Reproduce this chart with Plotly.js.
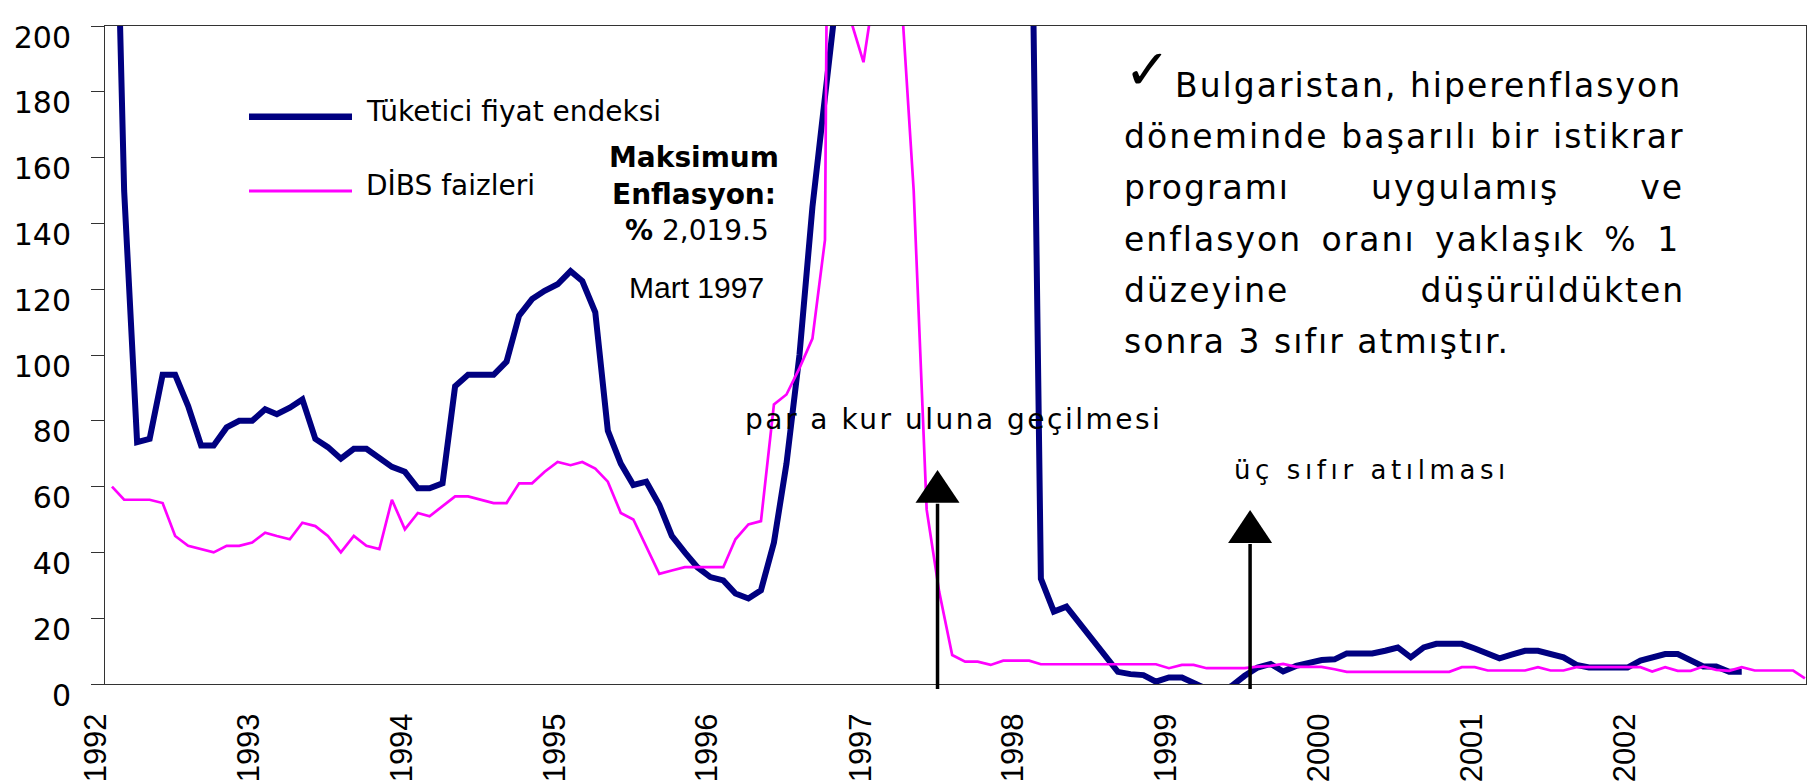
<!DOCTYPE html>
<html>
<head>
<meta charset="utf-8">
<script src="https://cdn.plot.ly/plotly-3.0.1.min.js"></script>
<style>
html,body{margin:0;padding:0;background:#fff;}
#chart{width:1813px;height:781px;}
</style>
</head>
<body>
<div id="chart"></div>
<script>
// ---- data -------------------------------------------------------------
const firstYear = 1992, firstMonth = 2;           // first observation: Feb 1992

// Tüketici fiyat endeksi (yıllık % değişim), Feb 1992 - Oct 2002
const cpiInflation = [
  300, 150, 73.5, 74.5, 94, 94, 84.5, 72.5, 72.5, 78, 80,                 // 1992
  80, 83.5, 82, 84, 86.5, 74.5, 72, 68.5, 71.5, 71.5, 68.5, 66,            // 1993
  64.5, 59.5, 59.5, 61, 90.5, 94, 94, 94, 98, 112, 117, 119.5,             // 1994
  121.5, 125.5, 122.5, 113, 77, 67, 60.5, 61.5, 54.5, 45, 40, 35.5,        // 1995
  32.5, 31.5, 27.5, 26, 28.5, 43, 67, 100, 145, 178, 213, 311,             // 1996
  480, 1270, 2019.5, 1900, 1700, 1300, 1000, 850, 800, 750, 650, 579,      // 1997
  400, 300, 32, 22, 23.5, 18.5, 13.5, 8.8, 3.7, 3, 2.7, 0.7,               // 1998
  2, 2, 0.4, -1.5, -2.5, -0.5, 2.5, 5, 6.1, 3.8, 5.5, 6.5,                 // 1999
  7.3, 7.5, 9.3, 9.3, 9.3, 10.1, 11.1, 8.1, 11.1, 12.2, 12.2, 12.2,        // 2000
  10.8, 9, 7.8, 9, 10.1, 10.1, 9.3, 8.1, 5.8, 5, 5, 5,                     // 2001
  5, 7.1, 8.1, 9.1, 9.1, 7.2, 5.3, 5.3, 3.7, 3.7                           // 2002
];

// DİBS faizleri (%), Feb 1992 - Mar 2003
const dibsRates = [
  60, 56, 56, 56, 55, 45, 42, 41, 40, 42, 42,                              // 1992
  43, 46, 45, 44, 49, 48, 45, 40, 45, 42, 41, 56,                          // 1993
  47, 52, 51, 54, 57, 57, 56, 55, 55, 61, 61, 64.5,                        // 1994
  67.5, 66.5, 67.5, 65.5, 61.5, 52, 50, 42, 33.5, 34.5, 35.5, 35.5,        // 1995
  35.5, 35.5, 44, 48.5, 49.5, 85, 88, 96, 105, 135, 700, 202,              // 1996
  189, 215, 280, 210, 150, 53, 28, 8.8, 6.8, 6.8, 5.8, 7.1,                // 1997
  7.1, 7.1, 6, 6, 6, 6, 6, 6, 6, 6, 6, 6,                                  // 1998
  4.8, 5.8, 5.8, 4.8, 4.8, 4.8, 4.8, 5.3, 5.5, 6.1, 5.2, 5.2,              // 1999
  5.2, 4.5, 3.7, 3.7, 3.7, 3.7, 3.7, 3.7, 3.7, 3.7, 3.7, 5.1,              // 2000
  5.1, 4.1, 4.1, 4.1, 4.1, 5.1, 4.1, 4.1, 5.1, 5.1, 5.1, 5.1,              // 2001
  5.1, 5.1, 3.8, 5.1, 4, 4, 5.3, 4.3, 4, 5.1, 4.1, 4.1,                    // 2002
  4.1, 4.1, 1.7                                                            // 2003
];

const seriesNames = ['Tüketici fiyat endeksi', 'DİBS faizleri'];
const yearLabels = ['1992','1993','1994','1995','1996','1997','1998','1999','2000','2001','2002'];
const yTickValues = [0, 20, 40, 60, 80, 100, 120, 140, 160, 180, 200];
const eventDates = ['1997-06-27', '1999-07-14'];   // para kurulu, üç sıfır

// ---- helpers ----------------------------------------------------------
function monthDates(n) {
  const out = [];
  for (let k = 0; k < n; k++) {
    const t = firstMonth - 1 + k;
    const y = firstYear + Math.floor(t / 12);
    const m = (t % 12) + 1;
    out.push(y + '-' + String(m).padStart(2, '0') + '-01');
  }
  return out;
}

const W = 1813, H = 781;
const M = {l: 105, r: 7, t: 26, b: 97};
const PW = W - M.l - M.r, PH = H - M.t - M.b;
const pxX = p => (p - M.l) / PW;
const pxY = p => (H - M.b - p) / PH;

const FONT = 'DejaVu Sans, Verdana, sans-serif';

function txt(text, xpx, basePx, size, opts) {
  return Object.assign({
    xref: 'paper', yref: 'paper',
    x: pxX(xpx), y: pxY(basePx - 0.346 * size),
    xanchor: 'left', yanchor: 'middle',
    showarrow: false, text: text,
    font: {family: FONT, size: size, color: '#000'}
  }, opts || {});
}
function sp(ls, ws, s) {
  return '<span style="letter-spacing:' + ls + 'px;word-spacing:' + ws + 'px">' + s + '</span>';
}

// ---- traces -----------------------------------------------------------
const traces = [
  {
    x: monthDates(cpiInflation.length), y: cpiInflation,
    type: 'scatter', mode: 'lines', name: seriesNames[0],
    line: {color: '#000080', width: 6}, showlegend: false
  },
  {
    x: monthDates(dibsRates.length), y: dibsRates,
    type: 'scatter', mode: 'lines', name: seriesNames[1],
    line: {color: '#FF00FF', width: 2.7}, showlegend: false
  }
];

// ---- shapes: legend samples and event arrows --------------------------
const shapes = [
  {type: 'line', xref: 'paper', yref: 'paper', x0: pxX(249), x1: pxX(352), y0: pxY(116.7), y1: pxY(116.7),
   line: {color: '#000080', width: 6.5}},
  {type: 'line', xref: 'paper', yref: 'paper', x0: pxX(249), x1: pxX(352), y0: pxY(191), y1: pxY(191),
   line: {color: '#FF00FF', width: 3}}
];
const arrowGeom = [{base: 502.7, tip: 470}, {base: 543, tip: 510}];
eventDates.forEach((d, i) => {
  const g = arrowGeom[i];
  shapes.push({type: 'line', xref: 'x', yref: 'paper', x0: d, x1: d, y0: pxY(689), y1: pxY(g.base + 1),
               line: {color: '#000', width: 3.5}});
  shapes.push({type: 'path', xref: 'x', yref: 'paper', xsizemode: 'pixel', xanchor: d,
               path: 'M -22,' + pxY(g.base) + ' L 22,' + pxY(g.base) + ' L 0,' + pxY(g.tip) + ' Z',
               fillcolor: '#000', line: {color: '#000', width: 0}});
});

// ---- annotations ------------------------------------------------------
const annotations = [
  txt(seriesNames[0], 364, 121, 28),
  txt(seriesNames[1], 364, 195, 28),
  txt('<b>Maksimum</b>', 694, 166.7, 28, {xanchor: 'center'}),
  txt('<b>Enflasyon:</b>', 694, 204, 28, {xanchor: 'center'}),
  txt('<b>%</b> 2,019.5', 697, 240, 28, {xanchor: 'center'}),
  txt('Mart 1997', 696, 296.7, 28, {xanchor: 'center', font: {family: 'Liberation Sans, Arial, sans-serif', size: 30, color: '#000'}}),
  txt(sp(2.5, 0, 'par a kur uluna geçilmesi'), 743, 429.3, 28),
  txt(sp(4.6, 0, 'üç sıfır atılması'), 1232, 479.3, 26),
  // right-hand text block
  {xref: 'paper', yref: 'paper', x: pxX(1147), y: pxY(69), xanchor: 'center', yanchor: 'middle',
   showarrow: false, text: '✓', font: {family: FONT, size: 56, color: '#000'}},
  txt(sp(2, 0, 'Bulgaristan, hiperenflasyon'), 1173, 96.7, 33),
  txt(sp(2.1, 0, 'döneminde başarılı bir istikrar'), 1122, 148.3, 33),
  txt(sp(2, 68.5, 'programı uygulamış ve'), 1122, 199.3, 33),
  txt(sp(2, 7, 'enflasyon oranı yaklaşık % 1'), 1122, 250.7, 33),
  txt(sp(2, 118.5, 'düzeyine düşürüldükten'), 1122, 301.7, 33),
  txt(sp(2, 0, 'sonra 3 sıfır atmıştır.'), 1122, 353.3, 33)
];

// ---- layout -----------------------------------------------------------
const layout = {
  width: W, height: H,
  margin: M,
  paper_bgcolor: '#fff', plot_bgcolor: '#fff',
  showlegend: false,
  xaxis: {
    type: 'date',
    range: ['1992-01-15 07:00', '2003-03-03 14:00'],
    tickmode: 'array',
    tickvals: yearLabels.map(y => y + '-02-01'),
    ticktext: yearLabels,
    ticklabelshift: -16,
    ticklabelstandoff: 16,
    tickangle: -90,
    ticks: '',
    showgrid: false, zeroline: false,
    showline: true, linecolor: '#333', linewidth: 1, mirror: true,
    tickfont: {family: 'Liberation Sans, Arial, sans-serif', size: 31, color: '#000'}
  },
  yaxis: {
    range: [0, 200],
    tickmode: 'array', tickvals: yTickValues,
    ticks: 'outside', ticklen: 13, tickcolor: '#333', tickwidth: 1,
    ticklabelshift: 11,
    ticklabelstandoff: 14,
    showgrid: false, zeroline: false,
    showline: true, linecolor: '#333', linewidth: 1, mirror: true,
    tickfont: {family: FONT, size: 30, color: '#000'}
  },
  shapes: shapes,
  annotations: annotations
};

Plotly.newPlot('chart', traces, layout, {displayModeBar: false, responsive: false});
</script>
</body>
</html>
